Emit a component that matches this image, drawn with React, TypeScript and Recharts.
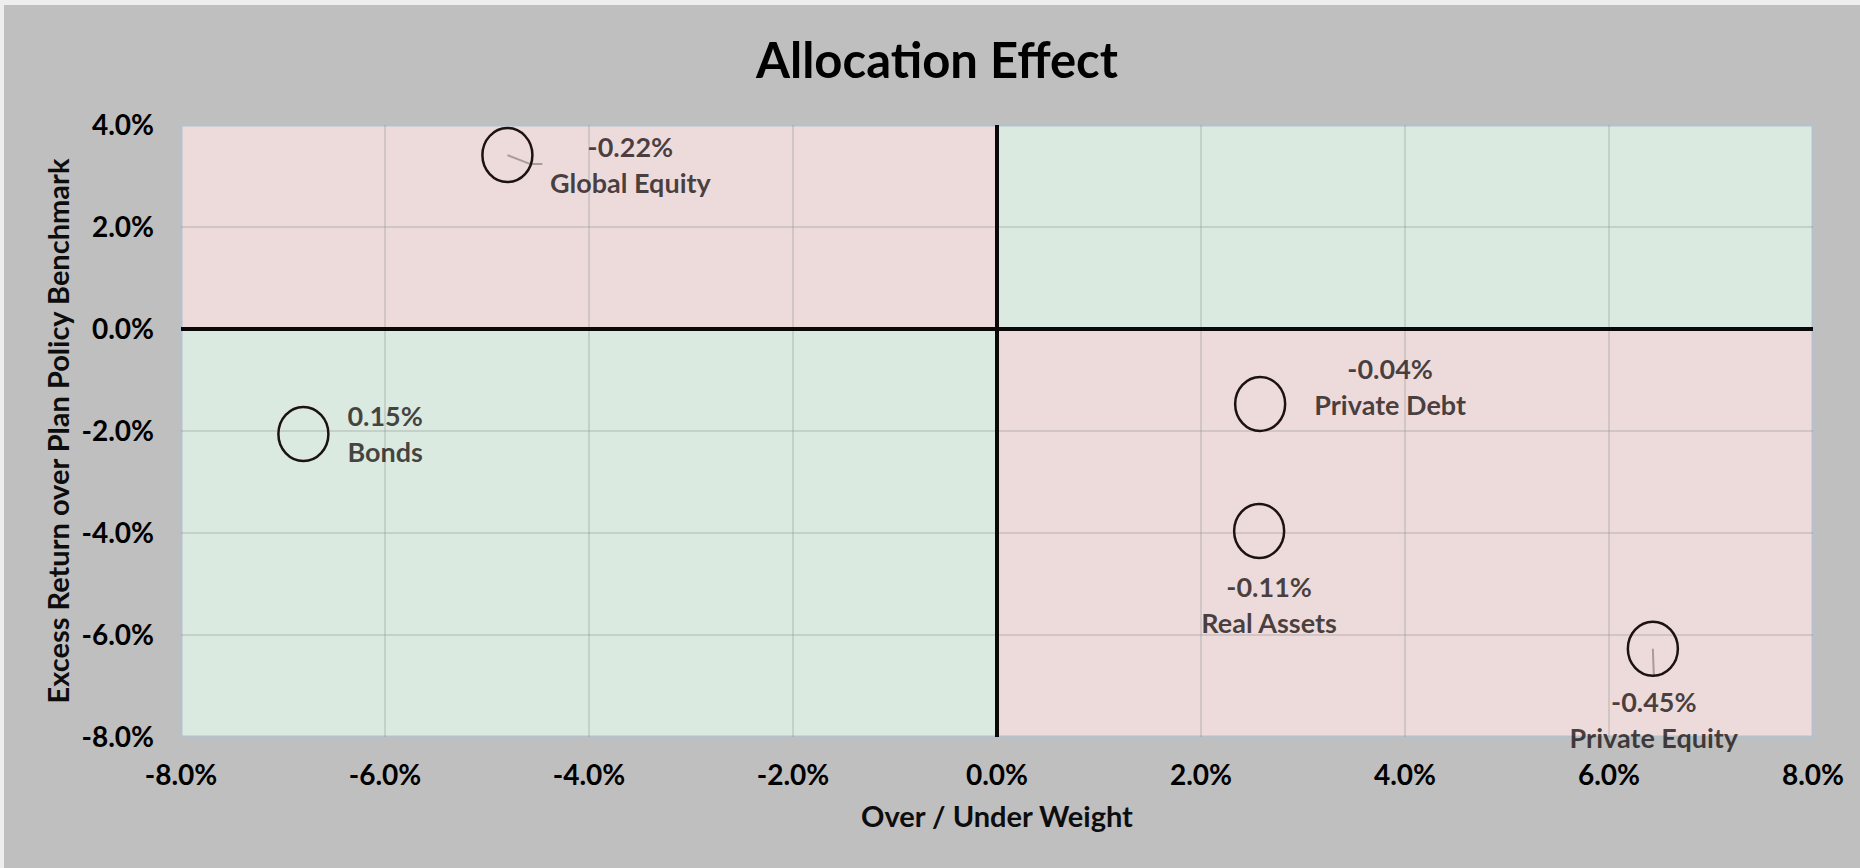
import React from 'react';
import {
  ScatterChart,
  Scatter,
  XAxis,
  YAxis,
  ReferenceArea,
  ReferenceLine,
} from 'recharts';

// ---- data ----
const categories = ['Global Equity', 'Bonds', 'Private Debt', 'Real Assets', 'Private Equity'];
const overUnderWeight = [-4.8, -6.8, 2.58, 2.57, 6.43];
const excessReturn = [3.41, -2.06, -1.47, -3.96, -6.27];
const allocationEffect = ['-0.22%', '0.15%', '-0.04%', '-0.11%', '-0.45%'];
const xTicks = [-8, -6, -4, -2, 0, 2, 4, 6, 8];
const yTicks = [-8, -6, -4, -2, 0, 2, 4];

const chartTitle = 'Allocation Effect';
const xTitle = 'Over / Under Weight';
const yTitle = 'Excess Return over Plan Policy Benchmark';

const points = categories.map((name, i) => ({
  name,
  x: overUnderWeight[i],
  y: excessReturn[i],
  effect: allocationEffect[i],
}));

// ---- styling (label placement, not data) ----
type Placement = { dx: number; dy: number; anchor: 'start' | 'middle' | 'end'; leader?: number[][] };
const labelPlacement: Record<string, Placement> = {
  'Global Equity': { dx: 123, dy: 2, anchor: 'middle', leader: [[23, 9], [35, 9]] },
  Bonds: { dx: 44, dy: -8, anchor: 'start' },
  'Private Debt': { dx: 130, dy: -25, anchor: 'middle' },
  'Real Assets': { dx: 10, dy: 66, anchor: 'middle' },
  'Private Equity': { dx: 1, dy: 63, anchor: 'middle', leader: [[1, 28]] },
};

const FONT = "Lato, 'Open Sans', sans-serif";
const PINK = '#EDDBDB';
const GREEN = '#DAEAE0';
const LINE_GAP = 36;

const fmt = (v: number) => `${v.toFixed(1)}%`;

const BubbleShape = (props: any) => {
  const { cx, cy, payload } = props;
  if (cx == null || cy == null) return null;
  const p = labelPlacement[payload.name];
  const leaderPts = p.leader
    ? [[0, 0], ...p.leader].map(([a, b]) => `${cx + a},${cy + b}`).join(' ')
    : null;
  const textProps = {
    textAnchor: p.anchor,
    fontFamily: FONT,
    fontWeight: 700,
    fontSize: 27,
    fill: '#140c0c',
    fillOpacity: 0.76,
  };
  return (
    <g>
      {leaderPts && (
        <polyline points={leaderPts} fill="none" stroke="#a89b9b" strokeWidth={2} />
      )}
      <ellipse cx={cx} cy={cy} rx={25} ry={27} fill="none" stroke="#1c1212" strokeWidth={2.5} />
      <text x={cx + p.dx} y={cy + p.dy} {...textProps}>
        {payload.effect}
      </text>
      <text x={cx + p.dx} y={cy + p.dy + LINE_GAP} {...textProps}>
        {payload.name}
      </text>
    </g>
  );
};

const XTitle = (props: any) => {
  const vb = props.viewBox || {};
  return (
    <text
      x={vb.x + vb.width / 2}
      y={vb.y + 90}
      textAnchor="middle"
      fontFamily={FONT}
      fontWeight={700}
      fontSize={29}
      fill="#0d0d0d"
    >
      {xTitle}
    </text>
  );
};

const YTitle = (props: any) => {
  const vb = props.viewBox || {};
  const x = 69;
  const y = vb.y + vb.height / 2;
  return (
    <text
      x={x}
      y={y}
      transform={`rotate(-90, ${x}, ${y})`}
      textAnchor="middle"
      fontFamily={FONT}
      fontWeight={700}
      fontSize={29}
      fill="#0d0d0d"
    >
      {yTitle}
    </text>
  );
};

export default function App() {
  const xGrid = xTicks.filter((t) => t !== 0 && t !== xTicks[0] && t !== xTicks[xTicks.length - 1]);
  const yGrid = yTicks.filter((t) => t !== 0 && t !== yTicks[0] && t !== yTicks[yTicks.length - 1]);
  const xMin = xTicks[0];
  const xMax = xTicks[xTicks.length - 1];
  const yMin = yTicks[0];
  const yMax = yTicks[yTicks.length - 1];
  return (
    <div style={{ position: 'absolute', left: 0, top: 0, width: 1860, height: 868, background: '#eeeeee' }}>
      <div style={{ position: 'absolute', left: 4, top: 5, width: 1856, height: 863, background: '#bfbfbf' }} />
      <svg style={{ position: 'absolute', left: 0, top: 0 }} width={1860} height={110}>
        <text x={937} y={78} textAnchor="middle" fontFamily={FONT} fontWeight={700} fontSize={49} fill="#000">
          {chartTitle}
        </text>
      </svg>
      <div style={{ position: 'absolute', left: 0, top: 0 }}>
        <ScatterChart width={1860} height={868} margin={{ top: 125, right: 47, bottom: 0, left: 0 }}>
          <XAxis
            type="number"
            dataKey="x"
            domain={[xMin, xMax]}
            ticks={xTicks}
            tickFormatter={fmt}
            height={131}
            axisLine={false}
            tickLine={false}
            tickSize={0}
            tickMargin={28}
            tick={{ fontFamily: FONT, fontWeight: 700, fontSize: 28, fill: '#000' }}
            label={<XTitle />}
          />
          <YAxis
            type="number"
            dataKey="y"
            domain={[yMin, yMax]}
            ticks={yTicks}
            tickFormatter={fmt}
            width={181}
            axisLine={false}
            tickLine={false}
            tickSize={0}
            tickMargin={27}
            tick={{ fontFamily: FONT, fontWeight: 700, fontSize: 28, fill: '#000' }}
            label={<YTitle />}
          />
          <ReferenceArea x1={xMin} x2={0} y1={0} y2={yMax} fill={PINK} fillOpacity={1} stroke="none" />
          <ReferenceArea x1={0} x2={xMax} y1={0} y2={yMax} fill={GREEN} fillOpacity={1} stroke="none" />
          <ReferenceArea x1={xMin} x2={0} y1={yMin} y2={0} fill={GREEN} fillOpacity={1} stroke="none" />
          <ReferenceArea x1={0} x2={xMax} y1={yMin} y2={0} fill={PINK} fillOpacity={1} stroke="none" />
          {xGrid.map((t) => (
            <ReferenceLine key={`gx${t}`} x={t} stroke="#8c8c8c" strokeOpacity={0.28} strokeWidth={2} />
          ))}
          {yGrid.map((t) => (
            <ReferenceLine key={`gy${t}`} y={t} stroke="#8c8c8c" strokeOpacity={0.28} strokeWidth={2} />
          ))}
          <ReferenceArea x1={xMin} x2={xMax} y1={yMin} y2={yMax} fill="none" stroke="#b7c1c9" strokeWidth={3} />
          <ReferenceLine x={0} stroke="#0a0808" strokeWidth={4} />
          <ReferenceLine y={0} stroke="#0a0808" strokeWidth={4} />
          <Scatter data={points} isAnimationActive={false} shape={BubbleShape} />
        </ScatterChart>
      </div>
    </div>
  );
}
